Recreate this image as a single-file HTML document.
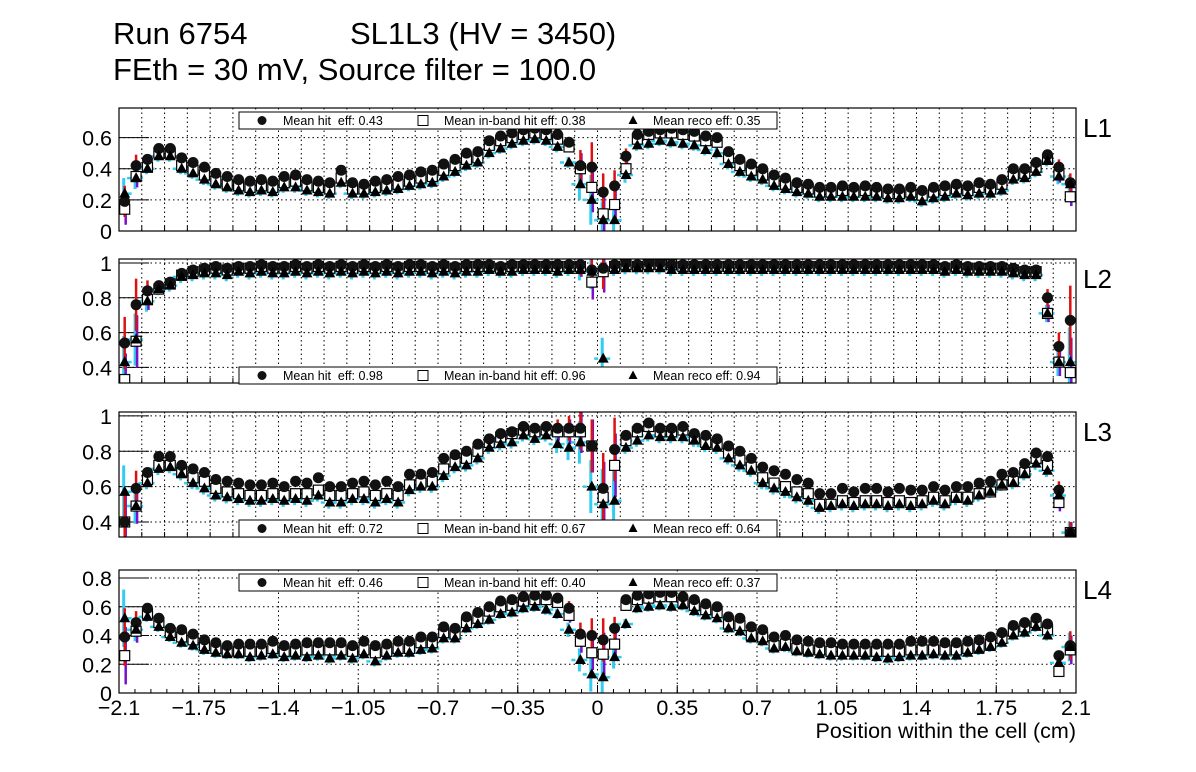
<!DOCTYPE html>
<html><head><meta charset="utf-8"><style>
body{margin:0;background:#fff;}
svg{display:block;font-family:"Liberation Sans",sans-serif;}
</style></head><body>
<svg id="c" width="1196" height="772" viewBox="0 0 1196 772">
<rect width="1196" height="772" fill="#fff"/>
<text x="113" y="44" font-size="31">Run 6754</text>
<text x="350" y="44" font-size="31">SL1L3 (HV = 3450)</text>
<text x="113" y="80" font-size="31">FEth = 30 mV, Source filter = 100.0</text>
<text x="1076" y="738" font-size="21.5" text-anchor="end">Position within the cell (cm)</text>
<g id="plots"></g>
</svg>
<script>
const hitL1=[0.19,0.42,0.46,0.53,0.53,0.47,0.44,0.41,0.37,0.35,0.33,0.32,0.33,0.32,0.35,0.36,0.33,0.32,0.31,0.39,0.31,0.30,0.32,0.33,0.35,0.36,0.38,0.39,0.43,0.46,0.50,0.51,0.58,0.61,0.63,0.65,0.66,0.65,0.62,0.57,0.42,0.41,0.25,0.29,0.48,0.62,0.64,0.65,0.66,0.65,0.64,0.61,0.60,0.51,0.46,0.43,0.40,0.36,0.34,0.31,0.30,0.28,0.28,0.29,0.28,0.29,0.28,0.27,0.27,0.28,0.26,0.28,0.29,0.30,0.29,0.31,0.30,0.33,0.40,0.40,0.44,0.49,0.41,0.31];
const inbL1=[0.14,0.35,0.41,0.50,0.50,0.42,0.39,0.36,0.32,0.30,0.29,0.28,0.29,0.28,0.31,0.32,0.29,0.28,0.27,0.34,0.27,0.27,0.28,0.29,0.30,0.32,0.34,0.35,0.39,0.42,0.46,0.47,0.55,0.58,0.60,0.62,0.63,0.62,0.59,0.54,0.40,0.28,0.11,0.17,0.40,0.59,0.62,0.63,0.63,0.62,0.61,0.58,0.57,0.47,0.42,0.39,0.36,0.32,0.30,0.28,0.27,0.25,0.25,0.26,0.25,0.26,0.25,0.24,0.24,0.25,0.23,0.25,0.26,0.27,0.26,0.28,0.27,0.30,0.36,0.37,0.41,0.46,0.36,0.22];
const recoL1=[0.24,0.34,0.40,0.48,0.48,0.40,0.37,0.33,0.30,0.28,0.26,0.25,0.26,0.25,0.28,0.28,0.26,0.25,0.24,0.31,0.24,0.24,0.25,0.26,0.27,0.29,0.30,0.31,0.35,0.38,0.42,0.44,0.50,0.53,0.56,0.58,0.59,0.58,0.54,0.44,0.30,0.20,0.07,0.07,0.36,0.55,0.56,0.58,0.57,0.56,0.55,0.52,0.50,0.43,0.38,0.35,0.33,0.29,0.27,0.25,0.24,0.22,0.22,0.22,0.22,0.22,0.22,0.21,0.21,0.22,0.19,0.21,0.22,0.24,0.23,0.24,0.24,0.26,0.33,0.34,0.38,0.45,0.35,0.30];
const hitL2=[0.54,0.76,0.84,0.87,0.89,0.94,0.96,0.97,0.98,0.97,0.98,0.98,0.99,0.98,0.98,0.99,0.98,0.99,0.98,0.99,0.98,0.99,0.98,0.99,0.98,0.99,0.99,0.98,0.99,0.98,0.99,0.99,0.99,0.98,0.99,0.99,0.99,0.99,0.99,0.99,0.99,0.96,0.97,0.99,1.00,0.99,1.00,1.00,0.99,0.99,0.99,0.99,0.99,0.99,0.99,0.99,0.99,0.99,0.99,0.99,0.99,0.99,0.99,0.99,0.99,0.99,0.99,0.99,0.99,0.99,0.99,0.99,0.98,0.99,0.98,0.98,0.98,0.98,0.97,0.96,0.96,0.80,0.52,0.67];
const inbL2=[0.33,0.55,0.79,0.85,0.88,0.93,0.95,0.96,0.97,0.96,0.97,0.97,0.98,0.97,0.97,0.98,0.97,0.98,0.97,0.98,0.97,0.98,0.97,0.98,0.97,0.98,0.98,0.97,0.98,0.97,0.98,0.98,0.98,0.97,0.98,0.98,0.98,0.98,0.98,0.98,0.98,0.89,0.95,0.98,0.99,0.98,0.99,0.99,0.99,0.98,0.98,0.98,0.98,0.98,0.98,0.98,0.98,0.98,0.98,0.98,0.98,0.98,0.98,0.98,0.98,0.98,0.98,0.98,0.98,0.98,0.98,0.98,0.97,0.98,0.97,0.97,0.97,0.97,0.96,0.95,0.95,0.71,0.43,0.37];
const recoL2=[0.43,0.56,0.78,0.85,0.87,0.92,0.93,0.94,0.94,0.93,0.95,0.94,0.95,0.94,0.94,0.95,0.94,0.95,0.94,0.95,0.94,0.95,0.94,0.95,0.94,0.95,0.95,0.94,0.95,0.94,0.95,0.95,0.96,0.95,0.95,0.96,0.96,0.96,0.95,0.96,0.96,0.95,0.45,0.96,0.97,0.97,0.97,0.97,0.96,0.96,0.96,0.96,0.96,0.96,0.96,0.96,0.96,0.96,0.96,0.96,0.96,0.96,0.96,0.96,0.96,0.96,0.96,0.96,0.96,0.96,0.96,0.96,0.95,0.96,0.95,0.95,0.95,0.95,0.94,0.93,0.93,0.71,0.43,0.43];
const hitL3=[0.40,0.59,0.68,0.77,0.77,0.72,0.70,0.68,0.64,0.63,0.62,0.61,0.61,0.62,0.60,0.63,0.62,0.65,0.60,0.60,0.62,0.63,0.61,0.63,0.60,0.67,0.67,0.68,0.76,0.78,0.80,0.84,0.87,0.90,0.91,0.94,0.93,0.94,0.93,0.93,0.93,0.83,0.59,0.81,0.89,0.93,0.96,0.93,0.93,0.94,0.90,0.89,0.87,0.83,0.80,0.76,0.71,0.69,0.67,0.64,0.62,0.56,0.56,0.59,0.57,0.59,0.59,0.57,0.59,0.58,0.58,0.60,0.58,0.60,0.60,0.62,0.63,0.67,0.68,0.73,0.79,0.77,0.58,0.34];
const inbL3=[0.40,0.49,0.64,0.72,0.72,0.68,0.65,0.63,0.59,0.57,0.56,0.55,0.55,0.56,0.55,0.56,0.56,0.58,0.55,0.55,0.56,0.57,0.55,0.56,0.55,0.61,0.62,0.63,0.70,0.74,0.76,0.80,0.85,0.88,0.90,0.92,0.91,0.92,0.91,0.91,0.91,0.83,0.54,0.72,0.86,0.91,0.94,0.91,0.91,0.92,0.87,0.85,0.84,0.79,0.75,0.71,0.65,0.62,0.60,0.57,0.56,0.50,0.50,0.52,0.51,0.52,0.52,0.51,0.52,0.51,0.52,0.54,0.52,0.54,0.54,0.56,0.57,0.61,0.63,0.68,0.76,0.72,0.51,0.34];
const recoL3=[0.57,0.49,0.62,0.70,0.71,0.67,0.62,0.59,0.55,0.54,0.53,0.52,0.52,0.53,0.52,0.53,0.52,0.55,0.51,0.51,0.53,0.53,0.51,0.53,0.51,0.58,0.60,0.60,0.66,0.71,0.72,0.76,0.82,0.84,0.85,0.89,0.87,0.89,0.84,0.82,0.85,0.60,0.50,0.52,0.82,0.86,0.89,0.88,0.88,0.88,0.86,0.83,0.82,0.76,0.72,0.69,0.62,0.59,0.57,0.54,0.52,0.48,0.49,0.50,0.49,0.50,0.50,0.49,0.50,0.49,0.50,0.52,0.50,0.53,0.52,0.55,0.57,0.61,0.62,0.67,0.73,0.69,0.55,0.34];
const hitL4=[0.39,0.49,0.59,0.52,0.45,0.44,0.41,0.37,0.35,0.33,0.34,0.34,0.34,0.36,0.33,0.34,0.35,0.35,0.35,0.35,0.33,0.36,0.33,0.34,0.36,0.36,0.39,0.39,0.46,0.45,0.53,0.56,0.60,0.64,0.65,0.67,0.68,0.68,0.66,0.59,0.41,0.40,0.37,0.45,0.65,0.68,0.69,0.70,0.70,0.67,0.65,0.62,0.60,0.53,0.52,0.46,0.44,0.39,0.40,0.37,0.36,0.35,0.35,0.34,0.34,0.34,0.34,0.34,0.34,0.36,0.36,0.36,0.35,0.35,0.36,0.37,0.39,0.42,0.47,0.49,0.52,0.48,0.26,0.33];
const inbL4=[0.26,0.43,0.55,0.49,0.42,0.39,0.37,0.33,0.31,0.29,0.29,0.29,0.29,0.31,0.29,0.29,0.30,0.30,0.30,0.30,0.29,0.30,0.28,0.29,0.31,0.31,0.35,0.35,0.42,0.41,0.49,0.52,0.57,0.60,0.61,0.64,0.65,0.65,0.63,0.54,0.36,0.28,0.27,0.34,0.61,0.65,0.66,0.67,0.67,0.63,0.61,0.58,0.56,0.48,0.47,0.40,0.39,0.33,0.34,0.31,0.30,0.30,0.29,0.29,0.29,0.29,0.29,0.29,0.29,0.30,0.30,0.30,0.30,0.30,0.31,0.32,0.34,0.38,0.43,0.46,0.49,0.44,0.15,0.30];
const recoL4=[0.52,0.44,0.53,0.46,0.39,0.35,0.33,0.30,0.28,0.27,0.27,0.25,0.26,0.27,0.25,0.26,0.25,0.26,0.24,0.26,0.24,0.27,0.22,0.26,0.28,0.28,0.30,0.31,0.38,0.38,0.45,0.48,0.51,0.55,0.56,0.59,0.60,0.58,0.55,0.44,0.23,0.13,0.11,0.25,0.48,0.59,0.60,0.61,0.60,0.61,0.57,0.54,0.52,0.45,0.43,0.38,0.36,0.31,0.32,0.29,0.28,0.27,0.26,0.26,0.26,0.26,0.25,0.24,0.25,0.26,0.26,0.27,0.26,0.26,0.28,0.30,0.32,0.35,0.40,0.42,0.46,0.40,0.21,0.32];
const bigErrIdxL1=[0,1,40,41,42,43,44,82,83];
const bigErrL1=[0.1,0.07,0.1,0.16,0.12,0.1,0.05,0.05,0.06];
const bigErrIdxL2=[0,1,2,40,41,42,81,82,83];
const bigErrL2=[0.15,0.15,0.06,0.06,0.1,0.12,0.05,0.08,0.2];
const bigErrIdxL3=[0,1,38,39,40,41,42,43,82,83];
const bigErrL3=[0.15,0.1,0.05,0.07,0.12,0.15,0.2,0.18,0.05,0.06];
const bigErrIdxL4=[0,1,39,40,41,42,43,83];
const bigErrL4=[0.2,0.08,0.05,0.08,0.12,0.15,0.08,0.1];
const legendMeansL1=["0.43","0.38","0.35"];
const legendMeansL2=["0.98","0.96","0.94"];
const legendMeansL3=["0.72","0.67","0.64"];
const legendMeansL4=["0.46","0.40","0.37"];
const xTickLabels=["\u22122.1","\u22121.75","\u22121.4","\u22121.05","\u22120.7","\u22120.35","0","0.35","0.7","1.05","1.4","1.75","2.1"];
const xTickValues=[-2.1,-1.75,-1.4,-1.05,-0.7,-0.35,0,0.35,0.7,1.05,1.4,1.75,2.1];

const NS="http://www.w3.org/2000/svg";
const X0=119,X1=1076,XMIN=-2.1,XMAX=2.1;
function xs(v){return X0+(v-XMIN)/(XMAX-XMIN)*(X1-X0);}
function mk(tag,attrs,parent){const e=document.createElementNS(NS,tag);for(const k in attrs)e.setAttribute(k,attrs[k]);parent.appendChild(e);return e;}
const root=document.getElementById('plots');
const panels=[
 {name:'L1',top:108,bot:231,ymin:0,ymax:0.79,ticks:[0,0.2,0.4,0.6],tl:["0","0.2","0.4","0.6"],hit:hitL1,inb:inbL1,reco:recoL1,bi:bigErrIdxL1,be:bigErrL1,leg:112,means:legendMeansL1,fine:true},
 {name:'L2',top:259,bot:383,ymin:0.31,ymax:1.023,ticks:[0.4,0.6,0.8,1],tl:["0.4","0.6","0.8","1"],hit:hitL2,inb:inbL2,reco:recoL2,bi:bigErrIdxL2,be:bigErrL2,leg:367,means:legendMeansL2,fine:true},
 {name:'L3',top:412,bot:537,ymin:0.315,ymax:1.022,ticks:[0.4,0.6,0.8,1],tl:["0.4","0.6","0.8","1"],hit:hitL3,inb:inbL3,reco:recoL3,bi:bigErrIdxL3,be:bigErrL3,leg:520,means:legendMeansL3,fine:true},
 {name:'L4',top:570,bot:693,ymin:0,ymax:0.856,ticks:[0,0.2,0.4,0.6,0.8],tl:["0","0.2","0.4","0.6","0.8"],hit:hitL4,inb:inbL4,reco:recoL4,bi:bigErrIdxL4,be:bigErrL4,leg:574,means:legendMeansL4,fine:false}
];
panels.forEach((p,pi)=>{
 const g=mk('g',{},root);
 
 
 const ys=v=>p.bot-(v-p.ymin)/(p.ymax-p.ymin)*(p.bot-p.top);
 const cid='clip'+pi;
 const cp=mk('clipPath',{id:cid},g);mk('rect',{x:X0,y:p.top,width:X1-X0,height:p.bot-p.top},cp);
 const gv=[];
 if(p.fine){for(let k=-20;k<=20;k++)gv.push(k/10);}else{xTickValues.slice(1,-1).forEach(v=>gv.push(v));}
 gv.forEach(v=>{const l=mk('line',{x1:xs(v),x2:xs(v),y1:p.top,y2:p.bot,stroke:'#000','stroke-width':1,'stroke-dasharray':'1.5,3'},g);
  
  const t=mk('line',{x1:xs(v),x2:xs(v),y1:p.bot,y2:p.bot-(p.fine?5:8),stroke:'#000','stroke-width':1},g);
  });
 if(!p.fine){for(let k=0;k<=60;k++){const v=-2.1+k*0.07;const t=mk('line',{x1:xs(v),x2:xs(v),y1:p.bot,y2:p.bot-4,stroke:'#000','stroke-width':1},g);
  }}
 p.ticks.forEach((v,i)=>{const y=ys(v);
  if(y>p.top+1&&y<p.bot-1){const l=mk('line',{x1:X0,x2:X1,y1:y,y2:y,stroke:'#000','stroke-width':1,'stroke-dasharray':'1.5,3'},g);
   }
  const t=mk('line',{x1:X0,x2:X0+30,y1:y,y2:y,stroke:'#000','stroke-width':1},g);
  
  const tx=mk('text',{x:112,y:y+8,'font-size':21.5,'text-anchor':'end'},g);tx.textContent=p.tl[i];
  });
 const dg=mk('g',{'clip-path':'url(#'+cid+')'},g);
 const n=p.hit.length;
 function errOf(i,base){const k=p.bi.indexOf(i);return k>=0?p.be[k]:base;}
 const series=[{arr:p.reco,col:'#33ccee',dx:-1,base:0.035,w:3},{arr:p.inb,col:'#7711cc',dx:1,base:0.02,w:2.5},{arr:p.hit,col:'#dd1111',dx:0,base:0.02,w:2.5}];
 series.forEach(s=>{s.arr.forEach((v,i)=>{const x=xs(XMIN+(i+0.5)*(XMAX-XMIN)/n)+s.dx;const e=errOf(i,s.base);
  const l=mk('line',{x1:x,x2:x,y1:ys(v-e),y2:ys(v+e),stroke:s.col,'stroke-width':s.w},dg);
  
  if(s.col==='#33ccee'){const h=mk('path',{d:`M${x-8},${ys(v)}h4M${x+4},${ys(v)}h4`,stroke:s.col,'stroke-width':2.5},dg);
   }
 });});
 p.inb.forEach((v,i)=>{const x=xs(XMIN+(i+0.5)*(XMAX-XMIN)/n);
  const r=mk('rect',{x:x-5,y:ys(v)-5,width:10,height:10,fill:'#fff',stroke:'#000','stroke-width':1.2},dg);
  });
 p.hit.forEach((v,i)=>{const x=xs(XMIN+(i+0.5)*(XMAX-XMIN)/n);
  const c=mk('circle',{cx:x,cy:ys(v),r:5.5,fill:'#111'},dg);
  });
 p.reco.forEach((v,i)=>{const x=xs(XMIN+(i+0.5)*(XMAX-XMIN)/n);const y=ys(v);
  const t=mk('path',{d:`M${x},${y-6}L${x+5.5},${y+4}L${x-5.5},${y+4}Z`,fill:'#000'},dg);
  });
 const fr=mk('rect',{x:X0,y:p.top,width:X1-X0,height:p.bot-p.top,fill:'none',stroke:'#000','stroke-width':1.2},g);
 
 const lg=mk('g',{},g);
 
 mk('rect',{x:239,y:p.leg,width:538,height:17,fill:'#fff',stroke:'#000','stroke-width':1},lg);
 const cy=p.leg+8.5;
 mk('circle',{cx:262,cy:cy,r:4.5,fill:'#111'},lg);
 mk('rect',{x:418,y:cy-5,width:10,height:10,fill:'#fff',stroke:'#000'},lg);
 mk('path',{d:`M633,${cy-5}L637.5,${cy+3.5}L628.5,${cy+3.5}Z`,fill:'#000'},lg);
 const labels=['Mean hit\u00a0\u00a0eff: '+p.means[0],'Mean in-band hit eff: '+p.means[1],'Mean reco eff: '+p.means[2]];
 [283,444,653].forEach((x,i)=>{const t=mk('text',{x:x,y:cy+4.5,'font-size':12.5},lg);t.textContent=labels[i];
  });
 const pl=mk('text',{x:1083,y:p.top+29,'font-size':26},g);pl.textContent=p.name;
 
 if(!p.fine){xTickValues.forEach((v,i)=>{const t=mk('text',{x:xs(v),y:p.bot+22,'font-size':21.5,'text-anchor':'middle'},g);t.textContent=xTickLabels[i];
  });}
});
</script>
</body></html>
